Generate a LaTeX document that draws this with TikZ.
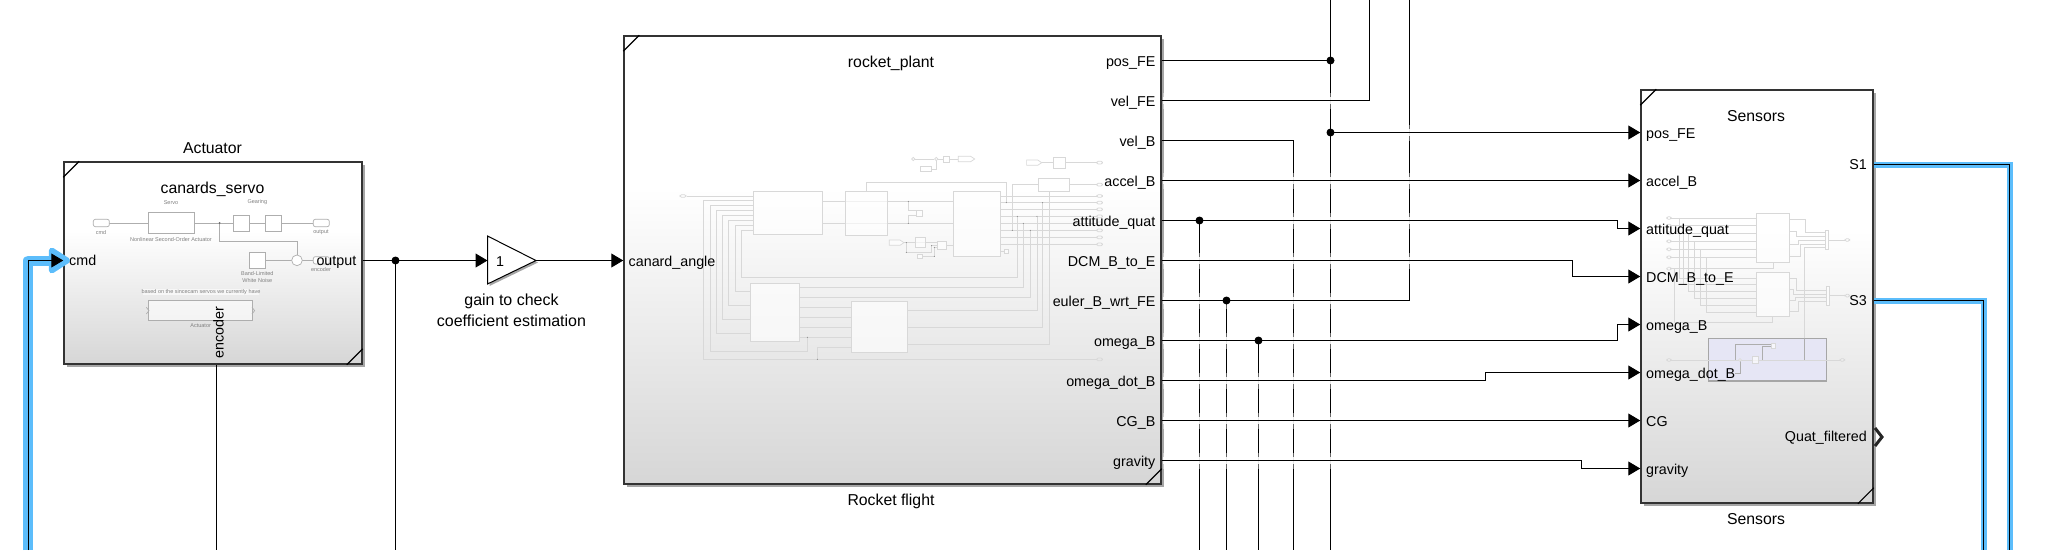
\documentclass[tikz,border=0pt]{standalone}
\usepackage{fontspec}
\setmainfont{Liberation Sans}
\usetikzlibrary{arrows.meta,shadows}

\definecolor{hilite}{HTML}{5CBDFB}
\definecolor{thumbline}{HTML}{D8D8D8}
\definecolor{thumbdark}{HTML}{AEAEAE}
\definecolor{areafill}{HTML}{E6E6F5}
\pgfdeclareverticalshading{blockshade}{100bp}{color(0bp)=(black!16); color(25bp)=(black!16); color(58bp)=(white); color(100bp)=(white)}

\tikzset{
    block/.style={draw=black!80, line width=1.5pt, shading=blockshade, inner sep=0pt,
        drop shadow={shadow xshift=2.5pt, shadow yshift=-2.5pt, fill=black, opacity=.35}},
    blockname/.style={font=\fontsize{15.8}{19}\selectfont, inner sep=0pt, text height=11pt, text depth=0pt},
    portlabel/.style={font=\fontsize{14.3}{17}\selectfont, inner sep=0pt, text height=11pt, text depth=0pt},
    wire/.style={line width=1pt, black},
    sig/.style={wire, -{Triangle[length=12pt,width=14pt]}},
    glow/.style={hilite, line width=6pt},
    thumb/.style={thumbline, line width=.7pt},
    thumbbox/.style={draw=thumbline, line width=.7pt, fill=white, fill opacity=.65},
    thumbtext/.style={font=\fontsize{5.5}{6.5}\selectfont, black!50, inner sep=0pt},
}
\newcommand{\cornermarks}[1]{%
    \draw[line width=1.1pt] ([yshift=-16pt]#1.north west) -- ([xshift=16pt]#1.north west);
    \draw[line width=1.1pt] ([xshift=-16pt]#1.south east) -- ([yshift=16pt]#1.south east);
}

\begin{document}
\begin{tikzpicture}[x=1pt, y=-1pt]
    \useasboundingbox (0,0) rectangle (2046,550);

    % Blocks
    \node[block, minimum width=298pt, minimum height=202pt] (actuator) at (213,263) {};
    \node[block, minimum width=537pt, minimum height=448pt] (rocket) at (892.5,260) {};
    \node[block, minimum width=232pt, minimum height=413pt] (sensors) at (1757,296.5) {};
    \cornermarks{actuator}
    \cornermarks{rocket}
    \cornermarks{sensors}

    % Actuator thumbnail
    \begin{scope}[shift={(60,170)}, x=.3333pt, y=-.3333pt]
        \draw[thumbdark, line width=.7pt] (148,159) -- (265,159) (403,159) -- (520,159) (569,159) -- (616,159) (665,159) -- (760,159);
        \draw[thumbdark, line width=.7pt] (479,159) -- (479,214) -- (711,214) -- (711,255);
        \draw[thumbdark, line width=.7pt] (617,271) -- (695,271) (727,271) -- (760,271);
        \fill[black!60] (479,159) circle (3);
        \foreach \xa/\ya/\xb/\yb in {265/127/403/190, 520/135/569/184, 616/135/665/184, 568/247/617/295}
            \draw[thumbdark, line width=.7pt, fill=white] (\xa,\ya) rectangle (\xb,\yb);
        \foreach \xa/\ya in {100/148, 760/148, 760/260}
            \draw[thumbdark, line width=.7pt, fill=white, rounded corners=2pt] (\xa,\ya) rectangle ++(48,22);
        \draw[thumbdark, line width=.7pt, fill=white] (711,271) circle (16);
        \fill[white, fill opacity=.6] (250,358) rectangle (596,376);
        \draw[thumbdark, line width=.9pt, fill=white, fill opacity=.6] (265,392) rectangle (578,452);
        \draw[thumbdark, line width=.7pt] (259,412) -- (267,422) -- (259,432) (576,412) -- (584,422) -- (576,432);
        \foreach \tx/\ty/\txt in {333/97/Servo, 592/97/Gearing, 123/187/cmd, 333/208/Nonlinear Second-Order Actuator, 783/187/output, 783/298/encoder, 592/310/Band-Limited, 592/331/White Noise, 423/367/based on the sincecam servos we currently have, 422/466/Actuator}
            \node[thumbtext] at (\tx,\ty) {\txt};
    \end{scope}

    % Rocket thumbnail
    \begin{scope}[shift={(680,140)}, x=.3333pt, y=-.3333pt]
        \draw[thumb] (20,168) -- (220,168);
        \draw[thumb] (220,181) -- (70,181) -- (70,658) -- (1250,658);
        \draw[thumb] (220,195) -- (91,195) -- (91,634) -- (382,634) -- (382,592);
        \foreach \ya/\xa/\yb in {210/109/580, 225/127/538, 240/145/496, 256/165/455}
            \draw[thumb] (220,\ya) -- (\xa,\ya) -- (\xa,\yb) -- (211,\yb);
        \draw[thumb] (220,271) -- (185,271) -- (185,412) -- (1012,412) -- (1012,229);
        \draw[thumb] (428,184) -- (820,184) (428,250) -- (820,250);
        \draw[thumb] (685,184) -- (685,212) -- (709,212) (685,250) -- (685,226) -- (709,226);
        \draw[thumb] (559,153) -- (559,127) -- (979,127) -- (979,188);
        \foreach \y in {168,188,208,229,250,271,292,313}
            \draw[thumb] (961,\y) -- (1250,\y);
        \draw[thumb] (997,271) -- (997,134) -- (1076,134) (1169,134) -- (1250,134);
        \draw[thumb] (1108,155) -- (1108,613) -- (682,613);
        \draw[thumb] (1088,188) -- (1088,562) -- (682,562);
        \draw[thumb] (1071,229) -- (1071,512) -- (682,512);
        \draw[thumb] (1051,271) -- (1051,472) -- (359,472);
        \draw[thumb] (1030,250) -- (1030,442) -- (359,442);
        \draw[thumb] (359,502) -- (514,502) (359,532) -- (514,532) (359,592) -- (514,592) (359,562) -- (514,562);
        \draw[thumb] (412,658) -- (412,622) -- (514,622);
        \draw[thumb] (672,308) -- (772,308) (679,308) -- (679,337) -- (755,337) -- (755,317) -- (772,317);
        \draw[thumb] (728,349) -- (763,349) -- (763,322) -- (772,322) (800,316) -- (820,316) (961,334) -- (972,334);
        \draw[thumb] (705,57) -- (763,57) (775,57) -- (790,57) (808,57) -- (835,57) (755,87) -- (769,87) -- (769,62);
        \draw[thumb] (1085,68) -- (1120,68) (1157,68) -- (1250,68);
        \foreach \xa/\ya/\xb/\yb in {220/153/428/283, 496/153/623/286, 820/153/961/349, 211/430/359/604, 514/484/682/637, 709/210/728/230, 706/292/737/323, 772/304/800/328, 712/343/728/356, 1076/114/1169/155, 1120/52/1157/85, 790/48/808/67, 721/79/755/95, 972/328/986/341}
            \draw[thumbbox] (\xa,\ya) rectangle (\xb,\yb);
        \foreach \xa/\xb/\y in {628/672/308, 835/884/57, 1040/1085/68}
            \draw[thumbbox] (\xa,\y-8) -- (\xb-12,\y-8) -- (\xb,\y) -- (\xb-12,\y+8) -- (\xa,\y+8) -- cycle;
        \foreach \xa/\y in {0/168, 1250/68, 1250/134, 1250/168, 1250/188, 1250/208, 1250/229, 1250/250, 1250/271, 1250/292, 1250/313, 1250/658}
            \draw[thumb, rounded corners=1.5pt] (\xa,\y-4) rectangle ++(18,8);
        \foreach \xc/\y in {700/57, 769/57}
            \draw[thumb] (\xc,\y) circle (5);
        \foreach \xc/\y in {685/184, 685/250, 979/188, 997/271, 1012/229, 1030/250, 1051/271, 1071/229, 1088/188, 382/592, 412/658, 679/308, 679/337, 755/317, 763/322, 763/349}
            \fill[black!55] (\xc,\y) circle (1.5);
    \end{scope}

    % Sensors thumbnail
    \begin{scope}[shift={(1620,80)}, x=.3333pt, y=-.3333pt]
        \foreach \y in {414,437,460,484,508,532}
            \draw[thumb] (150,\y) -- (409,\y);
        \foreach \xa/\ya/\yb in {178/414/595, 190/437/613, 205/460/634, 223/484/655, 241/508/676, 259/532/697}
            \draw[thumb] (\xa,\ya) -- (\xa,\yb) -- (409,\yb);
        \draw[thumb] (150,566) -- (460,566) -- (460,547);
        \draw[thumb] (163,566) -- (163,727) -- (458,727) -- (458,709);
        \draw[thumb] (508,418) -- (556,418) -- (556,458) -- (617,458);
        \draw[thumb] (508,455) -- (528,455) -- (528,469) -- (617,469);
        \draw[thumb] (508,492) -- (535,492) -- (535,480) -- (617,480);
        \draw[thumb] (508,530) -- (542,530) -- (542,492) -- (617,492);
        \draw[thumb] (617,503) -- (553,503) -- (553,840);
        \draw[thumb] (625,480) -- (675,480) (628,647) -- (675,647);
        \draw[thumb] (508,596) -- (530,596) -- (530,632) -- (619,632);
        \draw[thumb] (508,627) -- (519,627) -- (519,643) -- (619,643);
        \draw[thumb] (508,660) -- (527,660) -- (527,653) -- (619,653);
        \draw[thumb] (508,695) -- (535,695) -- (535,664) -- (619,664);
        \foreach \xa/\ya/\xb/\yb in {409/400/508/547, 409/577/508/709, 617/452/625/508, 619/619/628/676}
            \draw[thumbbox] (\xa,\ya) rectangle (\xb,\yb);
        \foreach \xa/\y in {140/414, 140/437, 140/460, 140/484, 140/508, 140/532, 140/566, 140/840, 675/480, 675/647, 660/840}
            \draw[thumb, rounded corners=1.5pt] (\xa,\y-4) rectangle ++(14,8);
        \draw[draw=black!35, line width=1.1pt, fill=areafill] (266,775) rectangle (619,903);
        \draw[thumb] (150,840) -- (660,840);
        \draw[thumb, thumbline!80!black] (346,840) -- (346,793) -- (453,793) (427,840) -- (427,800) -- (453,800) (360,840) -- (360,880) -- (345,880) (553,775) -- (553,840);
        \draw[thumbbox] (398,830) rectangle (416,850);
        \draw[thumbbox] (453,790) rectangle (467,805);
        \draw[thumb, fill=white] (360,840) circle (4);
    \end{scope}

    % Block labels
    \node[blockname] (actuatorname) at (212.5,148) {Actuator};
    \node[blockname] (servoname) at (212.5,188) {canards\_servo};
    \node[portlabel, anchor=west] (cmdlabel) at (69,260) {cmd};
    \node[portlabel, anchor=east] (outputlabel) at (356.5,260) {output};
    \node[portlabel, rotate=90] (encoderlabel) at (218,333) {encoder};
    \node[blockname] (rocketname) at (891,62) {rocket\_plant};
    \node[blockname] (flightname) at (891,500) {Rocket flight};
    \node[blockname] (sensorsname) at (1756,116) {Sensors};
    \node[blockname] (sensorsbelow) at (1756,519) {Sensors};
    \node[portlabel, anchor=west] (anglelabel) at (628.5,261) {canard\_angle};
    \node[portlabel, anchor=east] (s1label) at (1867,164) {S1};
    \node[portlabel, anchor=east] (s3label) at (1867,300) {S3};
    \node[portlabel, anchor=east] (quatlabel) at (1867,436) {Quat\_filtered};
    \node[font=\fontsize{16}{20.7}\selectfont, align=center, inner sep=0pt] (gainlabel) at (511.5,310) {gain to check\\coefficient estimation};

    % Ports
    \foreach \name/\y/\txt in {pos/60.5/pos\_FE, velfe/100.5/vel\_FE, velb/140.5/vel\_B, accel/180.5/accel\_B, att/220.5/attitude\_quat, dcm/260.5/DCM\_B\_to\_E, euler/300.5/euler\_B\_wrt\_FE, omega/340.5/omega\_B, omdot/380.5/omega\_dot\_B, cg/420.5/CG\_B, grav/460.5/gravity} {
        \coordinate (rp\name) at (rocket.east |- 0,\y);
        \node[portlabel, anchor=east] (rl\name) at (1155.5,\y) {\txt};
    }
    \foreach \name/\y/\txt in {pos/132.5/pos\_FE, accel/180.5/accel\_B, att/228.5/attitude\_quat, dcm/276.5/DCM\_B\_to\_E, omega/324.5/omega\_B, omdot/372.5/omega\_dot\_B, cg/420.5/CG, grav/468.5/gravity} {
        \coordinate (sn\name) at (sensors.west |- 0,\y);
        \node[portlabel, anchor=west] (sl\name) at (1646,\y) {\txt};
    }

    % Junctions and free ends
    \coordinate (jout) at (395.5,260.5);
    \coordinate (jpostop) at (1330.5,60.5);
    \coordinate (jposnext) at (1330.5,132.5);
    \coordinate (jatt) at (1199.5,220.5);
    \coordinate (jeuler) at (1226.5,300.5);
    \coordinate (jomega) at (1258.5,340.5);
    \coordinate (cvelfe) at (1369.5,100.5);
    \coordinate (cvelb) at (1293.5,140.5);
    \coordinate (ceuler) at (1409.5,300.5);
    \coordinate (topedge) at (0,0);
    \coordinate (botedge) at (0,550);

    % Vertical runs
    \draw[wire] (jpostop |- topedge) -- (jpostop |- botedge);
    \foreach \c in {jatt,jeuler,jomega,cvelb}
        \draw[wire] (\c) -- (\c |- botedge);
    \foreach \c in {cvelfe,ceuler}
        \draw[wire] (\c) -- (\c |- topedge);
    \draw[wire] (216.5,0 |- actuator.south) -- (216.5,550);
    \draw[wire] (jout) -- (jout |- botedge);

    % Gaps where rows pass over the vertical runs
    \foreach \y/\xa/\xb in {100.5/1163/1362, 132.5/1337/1420, 180.5/1163/1420, 220.5/1206/1420, 260.5/1163/1420, 300.5/1163/1403, 340.5/1163/1250, 340.5/1266/1340, 380.5/1163/1340, 420.5/1163/1340, 460.5/1163/1340} {
        \draw[white, line width=16pt, opacity=.4] (\xa,\y) -- (\xb,\y);
        \draw[white, line width=7pt, opacity=.85] (\xa,\y) -- (\xb,\y);
    }

    % Rows
    \draw[wire] (rppos) -- (jpostop);
    \draw[sig] (jposnext) -- (snpos);
    \draw[wire] (rpvelfe) -- (cvelfe);
    \draw[wire] (rpvelb) -- (cvelb);
    \draw[sig] (rpaccel) -- (snaccel);
    \draw[sig] (rpatt) -- (1617.5,220.5) -- (1617.5,228.5) -- (snatt);
    \draw[sig] (rpdcm) -- (1572.5,260.5) -- (1572.5,276.5) -- (sndcm);
    \draw[wire] (rpeuler) -- (ceuler);
    \draw[sig] (rpomega) -- (1617.5,340.5) -- (1617.5,324.5) -- (snomega);
    \draw[sig] (rpomdot) -- (1485.5,380.5) -- (1485.5,372.5) -- (snomdot);
    \draw[sig] (rpcg) -- (sncg);
    \draw[sig] (rpgrav) -- (1581.5,460.5) -- (1581.5,468.5) -- (sngrav);
    \foreach \c in {jout,jpostop,jposnext,jatt,jeuler,jomega}
        \fill (\c) circle (4pt);

    % Gain
    \coordinate (gainin) at (487.5,260.5);
    \coordinate (gainout) at (536,260.5);
    \coordinate (rocketin) at (rocket.west |- 0,260.5);
    \draw[line width=1pt, fill=white, drop shadow={shadow xshift=2pt, shadow yshift=-2pt, fill=black, opacity=.35}] (487.5,236) -- (gainout) -- (487.5,284) -- cycle;
    \node[portlabel] (gainvalue) at (500,260.5) {1};
    \draw[sig] (actuator.east |- 0,260.5) -- (gainin);
    \draw[sig] (gainout) -- (rocketin);

    % Highlighted signals
    \coordinate (cmdin) at (actuator.west |- 0,260.5);
    \draw[hilite, line width=10pt, line join=round, -{Triangle[length=24pt,width=29pt,round]}] (28,550) -- (28,260.5) -- (70,260.5);
    \draw[sig] (28.5,550) -- (28.5,260.5) -- (cmdin);
    \foreach \name/\y/\xc in {sone/164.5/2009.5, sthree/300.5/1983.5} {
        \coordinate (\name) at (sensors.east |- 0,\y);
        \draw[glow] (\name) -- (\xc,\y) -- (\xc,550);
        \draw[wire] (\name) -- (\xc,\y) -- (\xc,550);
    }
    \draw[line width=3pt, black!85] (1875,428) -- (1882,437) -- (1875,446);
\end{tikzpicture}
\end{document}
